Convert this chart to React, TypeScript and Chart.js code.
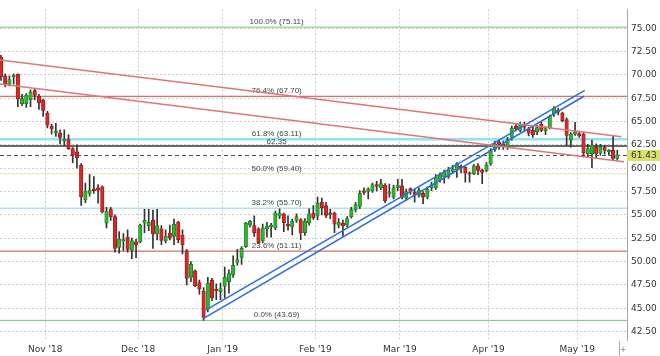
import React, { useEffect, useRef } from 'react';
import { Chart, registerables } from 'chart.js';

Chart.register(...registerables);

// Daily candles, index 0 = 17 Oct 2018 (trading days)
const OPEN = [71.9, 69.9, 69.0, 69.8, 70.05, 66.9, 66.9, 67.35, 68.3, 67.7, 67.3, 65.9, 64.5, 63.8, 63.75, 62.9, 63.05, 62.1, 61.75, 60.3,
  56.6, 57.3, 57.7, 57.9, 58.0, 54.1, 55.6, 54.8, 51.5, 52.2, 52.6, 51.2, 52.1, 52.1, 54.1, 53.85, 54.4, 52.95, 53.5, 52.2,
  53.05, 52.7, 54.2, 52.8, 51.15, 48.3, 49.0, 47.75, 46.8, 44.9, 48.0, 47.0, 46.75, 47.35, 47.85, 48.55, 49.9, 50.45, 51.6, 53.9,
  53.85, 53.5, 52.2, 53.5, 53.7, 53.6, 54.85, 55.05, 53.95, 53.7, 54.4, 54.5, 53.1, 54.15, 55.2, 54.85, 56.35, 56.0, 55.2, 55.2,
  53.9, 54.1, 53.9, 54.8, 55.55, 55.9, 57.55, 57.5, 57.55, 58.25, 57.85, 58.2, 57.3, 56.9, 57.9, 58.1, 56.8, 57.8, 57.45, 57.1,
  57.3, 56.9, 57.9, 57.9, 58.8, 59.05, 59.05, 59.65, 59.8, 60.2, 60.1, 59.5, 59.4, 60.25, 59.8, 59.75, 60.45, 62.0, 62.8, 62.6,
  62.3, 63.3, 64.5, 64.05, 64.7, 64.2, 64.05, 63.9, 64.7, 64.0, 64.35, 65.8, 66.2, 65.9, 65.2, 63.0, 63.65, 63.7, 63.65, 61.55,
  61.55, 62.25, 61.6, 62.2, 61.75, 61.9, 61.05];
const HIGH = [72.1, 70.1, 69.9, 70.1, 70.1, 67.9, 68.0, 68.4, 68.5, 67.9, 67.4, 66.1, 64.7, 64.8, 64.1, 64.1, 63.6, 62.2, 62.5, 60.5,
  58.4, 59.3, 59.1, 58.25, 58.1, 55.8, 55.8, 55.0, 53.2, 53.0, 53.4, 52.5, 52.4, 54.0, 55.6, 55.6, 55.5, 55.6, 53.85, 53.4,
  53.9, 54.55, 54.3, 53.4, 51.3, 50.0, 49.1, 48.0, 47.2, 48.3, 48.2, 47.6, 47.7, 49.4, 49.1, 50.6, 51.3, 51.6, 54.2, 54.4,
  54.9, 53.6, 54.0, 54.2, 54.1, 55.4, 55.65, 55.2, 54.9, 54.55, 55.1, 54.6, 54.6, 55.65, 56.0, 56.9, 56.8, 56.35, 55.6, 55.3,
  54.6, 54.45, 54.8, 55.8, 56.35, 57.6, 57.9, 57.9, 58.4, 58.6, 58.8, 58.35, 58.3, 58.2, 58.8, 58.8, 57.75, 57.9, 57.75, 57.9,
  57.5, 58.0, 58.5, 59.3, 59.5, 59.8, 60.1, 60.3, 60.6, 60.35, 60.15, 59.6, 60.4, 60.5, 59.9, 60.6, 62.1, 62.9, 63.0, 62.9,
  63.3, 64.5, 64.75, 64.9, 64.9, 64.4, 64.4, 64.6, 64.9, 64.45, 65.7, 66.6, 66.45, 66.0, 65.4, 63.8, 64.9, 63.9, 63.8, 62.55,
  63.0, 62.6, 62.55, 62.4, 62.0, 63.5, 61.9];
const LOW = [69.4, 68.7, 68.8, 69.0, 66.6, 66.7, 66.5, 66.6, 67.3, 66.3, 65.55, 64.3, 63.65, 63.4, 62.6, 62.4, 62.0, 60.6, 60.0, 56.0,
  56.3, 57.0, 57.3, 56.25, 55.2, 53.6, 54.4, 51.0, 50.9, 51.2, 51.0, 50.3, 50.4, 52.0, 53.1, 53.3, 51.4, 52.3, 51.8, 52.0,
  52.3, 51.8, 52.0, 50.8, 47.5, 47.85, 47.3, 46.5, 43.69, 44.6, 45.8, 45.9, 45.9, 46.1, 46.6, 48.3, 49.6, 49.7, 51.5, 53.7,
  52.7, 51.9, 52.0, 52.6, 52.6, 53.4, 54.6, 53.2, 53.35, 52.85, 54.2, 52.35, 52.8, 53.9, 54.5, 54.45, 55.0, 54.7, 54.6, 53.1,
  53.6, 52.7, 53.7, 54.65, 55.3, 55.65, 57.2, 56.7, 57.4, 57.55, 57.7, 56.3, 56.9, 56.7, 57.6, 56.7, 56.6, 57.2, 56.35, 56.9,
  56.2, 56.7, 57.6, 57.7, 58.5, 58.4, 58.9, 59.5, 59.0, 59.5, 58.5, 58.5, 59.3, 59.3, 58.35, 59.6, 60.3, 61.8, 62.0, 62.0,
  62.0, 63.0, 64.0, 63.9, 64.0, 63.45, 63.3, 63.6, 63.9, 63.6, 64.2, 65.55, 65.7, 64.95, 62.45, 62.25, 63.5, 63.3, 61.2, 61.2,
  60.05, 61.1, 61.4, 61.5, 61.4, 60.85, 60.85];
const CLOSE = [69.8, 69.0, 69.5, 69.95, 67.4, 67.45, 67.8, 68.15, 67.8, 67.0, 66.2, 64.6, 64.2, 64.0, 63.3, 63.1, 62.1, 61.4, 61.1, 56.95,
  57.55, 57.65, 57.6, 57.65, 55.3, 55.4, 54.8, 51.4, 52.4, 52.35, 51.3, 52.25, 51.8, 53.9, 54.4, 54.2, 52.95, 53.85, 52.25, 52.7,
  52.5, 54.0, 52.35, 51.8, 48.2, 49.7, 47.4, 47.05, 44.0, 47.7, 46.1, 46.85, 47.1, 48.3, 48.7, 49.6, 50.2, 51.4, 54.1, 54.3,
  53.1, 52.0, 53.6, 53.8, 53.9, 55.2, 55.2, 54.15, 53.85, 54.3, 54.8, 53.05, 54.3, 55.1, 54.7, 56.25, 55.75, 54.95, 55.05, 54.0,
  54.2, 53.8, 54.6, 55.55, 56.1, 57.3, 57.4, 57.75, 58.25, 58.05, 58.35, 56.5, 57.45, 57.9, 58.2, 56.9, 57.5, 57.55, 57.1, 57.65,
  56.9, 57.75, 58.25, 59.05, 59.3, 59.55, 59.8, 59.9, 60.5, 60.0, 59.5, 59.35, 60.25, 59.75, 59.55, 60.35, 61.9, 62.6, 62.55, 62.3,
  63.1, 64.3, 64.2, 64.7, 64.4, 63.75, 63.6, 64.35, 64.05, 64.25, 65.55, 66.4, 66.0, 65.1, 63.5, 63.65, 63.9, 63.45, 61.6, 62.1,
  62.45, 61.55, 62.3, 61.9, 61.9, 61.05, 61.43];

const MONTH_LABELS = ["Nov '18", "Dec '18", "Jan '19", "Feb '19", "Mar '19", "Apr '19", "May '19"];
const MONTH_START_IDX = [11, 33, 53, 75, 95, 116, 137];
const Y_TICKS = [42.5, 45, 47.5, 50, 52.5, 55, 57.5, 60, 62.5, 65, 67.5, 70, 72.5, 75];

const FIB_LEVELS = [75.11, 67.70, 63.11, 59.40, 55.70, 51.11, 43.69];
const FIB_NAMES = ['100.0%', '76.4%', '61.8%', '50.0%', '38.2%', '23.6%', '0.0%'];
const REF_LEVEL = 62.35;
const LAST_PRICE = 61.43;
const FIB_LABEL_IDX = 65.3;

const RED_UPPER = [{ x: -1, y: 71.63 }, { x: 147, y: 63.36 }];
const RED_LOWER = [{ x: -1, y: 69.06 }, { x: 147.6, y: 60.69 }];
const BLUE_UPPER = [{ x: 48.5, y: 44.79 }, { x: 138.3, y: 68.33 }];
const BLUE_LOWER = [{ x: 47.8, y: 43.85 }, { x: 138.1, y: 67.71 }];

// styles
const FIB_COLORS = ['#9ddc9a', '#c0504d', '#8fe3f3', '#ece3a6', '#ade3ef', '#c0504d', '#6fcf6c'];
const FIB_WIDTHS = [1.5, 1, 2.5, 1, 1.5, 1, 1];
const UP_FILL = '#2fb52f';
const UP_EDGE = '#1e7e1e';
const DN_FILL = '#d42a2a';
const DN_EDGE = '#9a1a1a';

const FONT = 'DejaVu Sans';

function linePix(v: number, w: number) {
  const r = Math.round(v);
  return w % 2 === 1 ? r + 0.5 : r;
}

const overlay = {
  id: 'overlay',
  beforeDatasetsDraw(chart: any) {
    const { ctx, chartArea: a, scales } = chart;
    const x = scales.x;
    const y = scales.y;
    ctx.save();
    ctx.beginPath();
    ctx.rect(a.left, a.top, a.right - a.left, a.bottom - a.top);
    ctx.clip();
    FIB_LEVELS.forEach((lv, i) => {
      const w = FIB_WIDTHS[i];
      const py = y.getPixelForValue(lv);
      ctx.strokeStyle = FIB_COLORS[i];
      ctx.lineWidth = w;
      ctx.beginPath();
      ctx.moveTo(a.left, py);
      ctx.lineTo(a.right, py);
      ctx.stroke();
    });
    // reference level
    const pr = linePix(y.getPixelForValue(REF_LEVEL), 2);
    ctx.strokeStyle = '#6a6a6a';
    ctx.lineWidth = 2;
    ctx.beginPath();
    ctx.moveTo(a.left, pr);
    ctx.lineTo(a.right, pr);
    ctx.stroke();
    // last price dashed
    const pl = linePix(y.getPixelForValue(LAST_PRICE), 1);
    ctx.strokeStyle = '#555';
    ctx.lineWidth = 1;
    ctx.setLineDash([4, 3]);
    ctx.beginPath();
    ctx.moveTo(a.left, pl);
    ctx.lineTo(a.right, pl);
    ctx.stroke();
    ctx.setLineDash([]);
    // labels
    const lx = x.getPixelForValue(FIB_LABEL_IDX);
    ctx.font = '8px "Liberation Sans"';
    ctx.fillStyle = '#444';
    ctx.textAlign = 'center';
    ctx.textBaseline = 'alphabetic';
    FIB_LEVELS.forEach((lv, i) => {
      const py = y.getPixelForValue(lv);
      ctx.fillText(`${FIB_NAMES[i]} (${lv.toFixed(2)})`, lx, py - 3);
    });
    ctx.fillText(REF_LEVEL.toFixed(2), lx, y.getPixelForValue(REF_LEVEL) - 2.5);
    ctx.restore();
  },
  afterDraw(chart: any) {
    const { ctx, chartArea: a, scales } = chart;
    const y = scales.y;
    ctx.save();
    const py = y.getPixelForValue(LAST_PRICE);
    ctx.fillStyle = '#d8e26c';
    ctx.fillRect(a.right, Math.round(py) - 5, chart.width - a.right, 11);
    ctx.fillStyle = '#333';
    ctx.font = `9px "${FONT}"`;
    ctx.textAlign = 'left';
    ctx.textBaseline = 'middle';
    ctx.fillText(LAST_PRICE.toFixed(2), a.right + 4, Math.round(py) + 0.5);
    // small footer marks
    ctx.strokeStyle = '#aaa';
    ctx.lineWidth = 1;
    ctx.beginPath();
    ctx.moveTo(619.5, a.bottom + 1);
    ctx.lineTo(619.5, chart.height);
    ctx.stroke();
    ctx.fillStyle = '#888';
    ctx.font = `8px "${FONT}"`;
    ctx.textAlign = 'center';
    ctx.fillText('+', 623, 350);
    ctx.restore();
  },
};

export default function App() {
  const ref = useRef<HTMLCanvasElement | null>(null);
  useEffect(() => {
    if (!ref.current) return;
    Chart.defaults.font.family = FONT;
    const up = OPEN.map((o, i) => CLOSE[i] >= o);
    const bodies = OPEN.map((o, i) => ({ x: i, y: [o, CLOSE[i]] }));
    const wicks = OPEN.map((_, i) => ({ x: i, y: [LOW[i], HIGH[i]] }));
    const trend = (data: any, color: string, w: number) => ({
      type: 'line' as const,
      data,
      borderColor: color,
      borderWidth: w,
      pointRadius: 0,
      fill: false,
      order: 0,
    });
    const chart = new Chart(ref.current, {
      type: 'bar',
      data: {
        datasets: [
          trend(RED_UPPER, '#e27474', 1.6),
          trend(RED_LOWER, '#e27474', 1.6),
          trend(BLUE_UPPER, '#2f6fd3', 1.6),
          trend(BLUE_LOWER, '#2f6fd3', 1.6),
          {
            type: 'bar',
            data: bodies as any,
            backgroundColor: up.map((u) => (u ? UP_FILL : DN_FILL)),
            borderColor: up.map((u) => (u ? UP_EDGE : DN_EDGE)),
            borderWidth: 0.8,
            borderSkipped: false,
            barThickness: 3.5,
            minBarLength: 1.5,
            grouped: false,
            order: 1,
          } as any,
          {
            type: 'bar',
            data: wicks as any,
            backgroundColor: '#333',
            borderWidth: 0,
            barThickness: 1,
            grouped: false,
            order: 2,
          } as any,
        ],
      },
      options: {
        responsive: false,
        animation: false,
        devicePixelRatio: 1,
        events: [],
        layout: { padding: 0 },
        plugins: { legend: { display: false }, tooltip: { enabled: false } },
        scales: {
          x: {
            type: 'linear',
            min: -0.23,
            max: 148.3,
            offset: false,
            grid: { color: '#cdcdcd', drawTicks: false, offset: false, lineWidth: 1 },
            border: { display: false, dash: [2, 2] },
            afterBuildTicks: (s: any) => {
              s.ticks = MONTH_START_IDX.map((v) => ({ value: v - 0.5 }));
            },
            afterFit: (s: any) => {
              s.height = 16;
            },
            ticks: {
              autoSkip: false,
              maxRotation: 0,
              padding: 4,
              color: '#333',
              font: { size: 9, family: FONT },
              callback: (_v: any, i: number) => MONTH_LABELS[i],
            },
          },
          y: {
            type: 'linear',
            position: 'right',
            min: 41.59,
            max: 77.01,
            beginAtZero: false,
            grid: { color: '#cdcdcd', drawTicks: false, lineWidth: 1 },
            border: { display: true, color: '#a8a8a8', width: 1, dash: [2, 2] },
            afterBuildTicks: (s: any) => {
              s.ticks = Y_TICKS.map((v) => ({ value: v }));
            },
            afterFit: (s: any) => {
              s.width = 33;
            },
            ticks: {
              padding: 4,
              color: '#333',
              font: { size: 9, family: FONT },
              callback: (v: any) => Number(v).toFixed(2),
            },
          },
        },
      },
      plugins: [overlay],
    } as any);
    return () => chart.destroy();
  }, []);
  return (
    <div style={{ position: 'absolute', left: 0, top: 0, width: 660, height: 356, background: '#fff' }}>
      <canvas ref={ref} width={660} height={356} style={{ display: 'block' }} />
    </div>
  );
}
